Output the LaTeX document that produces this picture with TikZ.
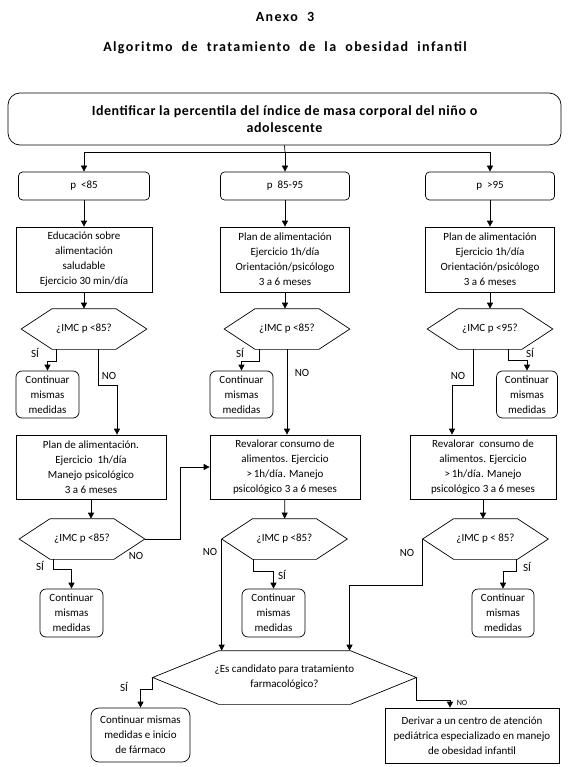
\documentclass[tikz,border=0pt]{standalone}
\usepackage{fontspec}
\setmainfont{Carlito}
\newfontfamily\fuentetitulo[LetterSpace=10,WordSpace=2]{Carlito}
\usetikzlibrary{arrows.meta,calc}

\begin{document}
\begin{tikzpicture}[x=1pt,y=-1pt,line width=0.7pt,
  caja/.style={draw, align=center, inner sep=1pt, font=\fontsize{11}{15}\selectfont},
  redondo/.style={caja, rounded corners=6pt},
  hexa/.style={align=center, inner sep=0pt, minimum width=125pt, minimum height=40pt, font=\fontsize{11}{15}\selectfont},
  etiqueta/.style={inner sep=0pt, font=\fontsize{11}{13}\selectfont},
  titular/.style={font=\fuentetitulo\fontsize{14}{16}\selectfont\bfseries},
  flecha/.style={-{Triangle[length=6pt,width=6pt]}}]

	\useasboundingbox (0,0) rectangle (570,767);

	% titulos
	\node[titular] (anexo) at (285,17) {Anexo 3};
	\node[titular] (titulo) at (285,48) {Algoritmo de tratamiento de la obesidad infantil};

	\node[caja, rounded corners=12pt, minimum width=553pt, minimum height=52pt, font=\fontsize{14}{17}\bfseries\addfontfeature{LetterSpace=4}] (inicio) at (284.5,119) {Identificar la percentila del índice de masa corporal del niño o\\adolescente};
	\coordinate (j) at (285,152);

	% percentilas
	\node[caja, rounded corners=4pt, minimum width=131pt, minimum height=28pt] (p1) at (84,186) {p~~<85};
	\node[caja, rounded corners=4pt, minimum width=129pt, minimum height=28pt] (p2) at (285,186) {p~~85-95};
	\node[caja, rounded corners=4pt, minimum width=129pt, minimum height=28pt] (p3) at (490,186) {p~~>95};

	% primera fila
	\node[caja, minimum width=136pt, minimum height=65pt] (b1) at (84,259.5) {Educación sobre\\alimentación\\saludable\\Ejercicio 30 min/día};
	\node[caja, minimum width=129pt, minimum height=65pt] (b2) at (285,259.5) {Plan de alimentación\\Ejercicio 1h/día\\Orientación/psicólogo\\3 a 6 meses};
	\node[caja, minimum width=129pt, minimum height=65pt] (b3) at (490,259.5) {Plan de alimentación\\Ejercicio 1h/día\\Orientación/psicólogo\\3 a 6 meses};

	\node[hexa] (q1) at (84,329) {¿IMC p <85?};
	\node[hexa] (q2) at (287,329) {¿IMC p <85?};
	\node[hexa] (q3) at (490,329) {¿IMC p <95?};

	\node[redondo, minimum width=63pt, minimum height=47pt] (c1) at (47.5,394.5) {Continuar\\mismas\\medidas};
	\node[redondo, minimum width=63pt, minimum height=47pt] (c2) at (241.5,394.5) {Continuar\\mismas\\medidas};
	\node[redondo, minimum width=61pt, minimum height=47pt] (c3) at (527,394.5) {Continuar\\mismas\\medidas};

	% segunda fila
	\node[caja, minimum width=150pt, minimum height=64pt] (r1) at (91,467) {Plan de alimentación.\\Ejercicio~~1h/día\\Manejo psicológico\\3 a 6 meses};
	\node[caja, minimum width=150pt, minimum height=64pt] (r2) at (285,467) {Revalorar consumo de\\alimentos. Ejercicio\\>\,1h/día. Manejo\\psicológico 3 a 6 meses};
	\node[caja, minimum width=146pt, minimum height=64pt] (r3) at (483,467) {Revalorar~~consumo de\\alimentos. Ejercicio\\>\,1h/día. Manejo\\psicológico 3 a 6 meses};

	\node[hexa] (s1) at (82,539) {¿IMC p <85?};
	\node[hexa] (s2) at (284.5,539) {¿IMC p <85?};
	\node[hexa] (s3) at (485.5,539) {¿IMC p < 85?};

	\node[redondo, minimum width=63pt, minimum height=48pt] (d1) at (71.5,613) {Continuar\\mismas\\medidas};
	\node[redondo, minimum width=63pt, minimum height=48pt] (d2) at (273.5,613) {Continuar\\mismas\\medidas};
	\node[redondo, minimum width=62pt, minimum height=48pt] (d3) at (503,613) {Continuar\\mismas\\medidas};

	% final
	\node[hexa, minimum width=263pt, minimum height=53pt] (g) at (284.5,677.5) {¿Es candidato para tratamiento\\farmacológico?};
	\node[redondo, rounded corners=8pt, minimum width=99pt, minimum height=54pt] (f1) at (140.5,735) {Continuar mismas\\medidas e inicio\\de fármaco};
	\node[caja, minimum width=174pt, minimum height=55pt] (f2) at (472,735.5) {Derivar a un centro de atención\\pediátrica especializado en manejo\\de obesidad infantil};

	\foreach \h/\s in {q1/31,q2/31,q3/31,s1/31,s2/31,s3/31,g/66}
		\draw (\h.west) -- ([xshift=\s pt]\h.north west) -- ([xshift=-\s pt]\h.north east) -- (\h.east) -- ([xshift=-\s pt]\h.south east) -- ([xshift=\s pt]\h.south west) -- cycle;

	% conectores
	\draw (inicio.south) -- (j);
	\draw[flecha] (j) -| (p1.north);
	\draw[flecha] (j) -- (p2.north);
	\draw[flecha] (j) -| (p3.north);
	\draw[flecha] (p1) -- (b1);
	\draw[flecha] (p2) -- (b2);
	\draw[flecha] (p3) -- (b3);
	\draw[flecha] (b1) -- (q1);
	\draw[flecha] (b2.south) -- (b2.south |- q2.north);
	\draw[flecha] (b3) -- (q3);

	\draw[flecha] ($(q1.south)+(-28,0)$) -- ++(0,12) -| (c1.north);
	\draw[flecha] ($(q1.south)+(14,0)$) -- ++(0,36) -| ([xshift=26pt]r1.north);
	\draw[flecha] ($(q2.south)+(-28,0)$) -- ++(0,12) -| (c2.north);
	\draw[flecha] (q2.south) -- (q2.south |- r2.north);
	\draw[flecha] ($(q3.south)+(18,0)$) -- ++(0,11) -| (c3.north);
	\draw[flecha] ($(q3.south)+(-17,0)$) -- ++(0,36) -| ([xshift=-31pt]r3.north);

	\draw[flecha] (r1.south) -- (r1.south |- s1.north);
	\draw[flecha] (r2) -- (s2);
	\draw[flecha] (r3.south) -- (r3.south |- s3.north);

	\draw[flecha] ($(s1.south)+(-29,0)$) -- ++(0,10) -| (d1.north);
	\draw[flecha] (s1.east) -- ++(35,0) |- (r2.west);
	\draw[flecha] ($(s2.south)+(-31,0)$) -- ++(0,12) -| (d2.north);
	\draw[flecha] (s2.west) -- (s2.west |- g.north);
	\draw[flecha] ($(s3.south)+(31,0)$) -- ++(0,12) -| (d3.north);
	\draw[flecha] (s3.west) -- ++(0,46) -| ([xshift=65pt]g.north);

	\draw[flecha] (g.west) -- ++(0,12) -| (f1.north);
	\draw[flecha] (g.east) -- ++(0,23) -| ([xshift=-22pt]f2.north);

	% etiquetas
	\node[etiqueta] (si1) at (35,353) {SÍ};
	\node[etiqueta] (no1) at (109,376) {NO};
	\node[etiqueta] (si2) at (240,353) {SÍ};
	\node[etiqueta] (no2) at (302,373) {NO};
	\node[etiqueta] (si3) at (530,353) {SÍ};
	\node[etiqueta] (no3) at (458,376) {NO};
	\node[etiqueta] (si4) at (40,566) {SÍ};
	\node[etiqueta] (no4) at (136,556) {NO};
	\node[etiqueta] (si5) at (282,575) {SÍ};
	\node[etiqueta] (no5) at (210,552) {NO};
	\node[etiqueta] (si6) at (527,567) {SÍ};
	\node[etiqueta] (no6) at (407,553) {NO};
	\node[etiqueta] (si7) at (124,687) {SÍ};
	\node[etiqueta, font=\fontsize{8}{10}\selectfont] (no7) at (462,703) {NO};

\end{tikzpicture}
\end{document}
